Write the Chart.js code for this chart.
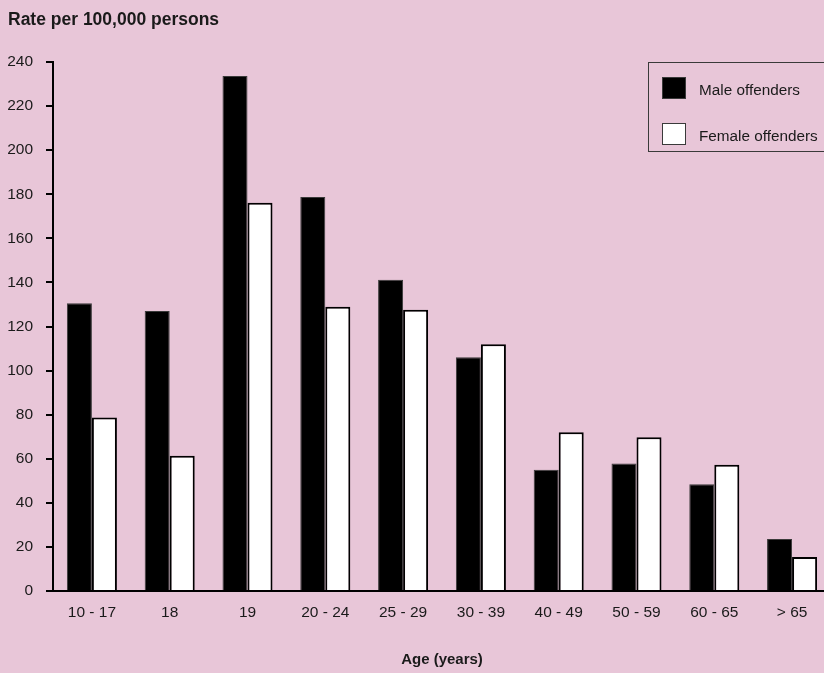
<!DOCTYPE html>
<html>
<head>
<meta charset="utf-8">
<script src="https://cdn.jsdelivr.net/npm/chart.js@4/dist/chart.umd.min.js"></script>
<style>
    html, body { margin: 0; padding: 0; overflow: hidden; background: #e8c6d8; }
    #wrap { position: absolute; left: 0; top: 0; width: 831px; height: 673px; }
</style>
</head>
<body>
<div id="wrap"><canvas id="chart"></canvas></div>
<script>
    // age groups and offending rates (per 100,000 persons)
    const ageGroups = ['10 - 17', '18', '19', '20 - 24', '25 - 29', '30 - 39', '40 - 49', '50 - 59', '60 - 65', '> 65'];
    const maleRates = [130.5, 127, 233.7, 178.8, 141.2, 106, 55, 57.9, 48.4, 23.6];
    const femaleRates = [78.7, 61.4, 176.2, 129, 127.6, 111.9, 72, 69.7, 57.3, 15.4];
    const yTicks = [0, 20, 40, 60, 80, 100, 120, 140, 160, 180, 200, 220, 240];

    const sans = "'Liberation Sans', Arial, sans-serif";
    const ink = '#1a1a1a';

    // boxed legend drawn inside the plot, top right
    const boxLegend = {
        id: 'boxLegend',
        afterDraw(chart) {
            let ctx = chart.ctx;
            let left = 648, top = 62, bottom = 151;
            ctx.save();
            ctx.strokeStyle = '#3a3a3a';
            ctx.lineWidth = 1;
            ctx.strokeRect(left + 0.5, top + 0.5, chart.width - left + 5, bottom - top);
            chart.data.datasets.forEach(function (ds, i) {
                let y = 77 + i * 46;
                ctx.fillStyle = ds.backgroundColor;
                ctx.fillRect(662, y, 24, 22);
                ctx.strokeStyle = '#3a3a3a';
                ctx.strokeRect(662.5, y + 0.5, 23, 21);
                ctx.fillStyle = ink;
                ctx.font = '15.3px ' + sans;
                ctx.textBaseline = 'middle';
                ctx.fillText(ds.label, 699, y + 14);
            });
            ctx.restore();
        }
    };

    new Chart(document.getElementById('chart'), {
        type: 'bar',
        data: {
            labels: ageGroups,
            datasets: [{
                label: 'Male offenders',
                data: maleRates,
                backgroundColor: '#000000',
                borderColor: '#3a3a3a',
                borderWidth: 1,
                categoryPercentage: 0.643,
                barPercentage: 1,
            }, {
                label: 'Female offenders',
                data: femaleRates,
                backgroundColor: '#ffffff',
                borderColor: '#000000',
                borderWidth: 2,
                categoryPercentage: 0.643,
                barPercentage: 1,
            }]
        },
        options: {
            responsive: true,
            maintainAspectRatio: false,
            animation: false,
            layout: {
                padding: {left: 8, top: 0, right: 0, bottom: 0},
            },
            plugins: {
                legend: {display: false},
                tooltip: {enabled: false},
                title: {
                    display: true,
                    text: 'Rate per 100,000 persons',
                    align: 'start',
                    color: ink,
                    font: {family: sans, size: 17.5, weight: 'bold'},
                    padding: {top: 10, bottom: 31},
                },
            },
            scales: {
                x: {
                    grid: {drawOnChartArea: false, drawTicks: false},
                    border: {color: '#000', width: 2},
                    ticks: {color: ink, padding: 12, font: {family: sans, size: 15.5}},
                    title: {
                        display: true,
                        text: 'Age (years)',
                        color: ink,
                        font: {family: sans, size: 15, weight: 'bold'},
                        padding: {top: 0, bottom: 4},
                    },
                    afterFit: function (scale) { scale.height = 82; },
                },
                y: {
                    min: 0,
                    max: 240,
                    afterBuildTicks: function (scale) {
                        scale.ticks = yTicks.map(function (v) { return {value: v}; });
                    },
                    grid: {drawOnChartArea: false, drawTicks: true, tickLength: 7, color: '#000', lineWidth: 2},
                    border: {color: '#000', width: 2},
                    ticks: {color: ink, padding: 13, font: {family: sans, size: 15.5}},
                    afterFit: function (scale) { scale.width = 45; },
                },
            },
        },
        plugins: [boxLegend],
    });
</script>
</body>
</html>
